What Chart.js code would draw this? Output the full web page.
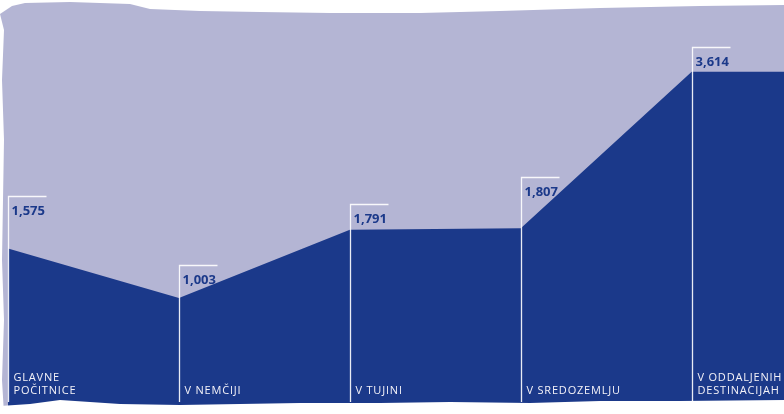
<!DOCTYPE html>
<html>
<head>
<meta charset="utf-8">
<script src="https://cdn.jsdelivr.net/npm/chart.js@4"></script>
<style>
  html, body { margin: 0; padding: 0; background: #ffffff; }
  #chart { display: block; }
</style>
</head>
<body>
<canvas id="chart" width="784" height="414"></canvas>
<script>
const categories = [['GLAVNE', 'POČITNICE'], ['V NEMČIJI'], ['V TUJINI'], ['V SREDOZEMLJU'], ['V ODDALJENIH', 'DESTINACIJAH']]
const values = [1575, 1003, 1791, 1807, 3614]

// styling only: how far above the area each bracket starts
const bracketOffsets = [52, 33, 26, 51, 25]

const lavender = '#b4b5d4'
const navy = '#1b398a'
const xMin = -0.047
const xMax = 4.54

const points = values.map((v, i) => ({ x: i, y: v }))
// area continues flat to the right edge
points.push({ x: xMax, y: values[values.length - 1] })

const formatValue = v => v.toLocaleString('en-US')

const backgroundPlugin = {
  id: 'paper',
  beforeDraw (chart) {
    const ctx = chart.ctx
    ctx.save()
    ctx.fillStyle = lavender
    ctx.fillRect(0, 0, chart.width, chart.height)
    ctx.restore()
  }
}

const decorPlugin = {
  id: 'decor',
  afterDatasetsDraw (chart) {
    const ctx = chart.ctx
    const x = chart.scales.x
    const y = chart.scales.y
    const bottom = 402

    ctx.save()
    values.forEach((v, i) => {
      const px = Math.round(x.getPixelForValue(i)) + 0.5
      const top = Math.round(y.getPixelForValue(v) - bracketOffsets[i]) + 0.5
      ctx.strokeStyle = 'rgba(255,255,255,0.9)'
      ctx.lineWidth = 1.3
      ctx.beginPath()
      ctx.moveTo(px + 38, top)
      ctx.lineTo(px, top)
      ctx.lineTo(px, bottom)
      ctx.stroke()

      ctx.fillStyle = navy
      ctx.font = 'bold 13px "Open Sans"'
      ctx.textBaseline = 'middle'
      ctx.textAlign = 'left'
      ctx.fillText(formatValue(v), px + 3, top + 15)

      ctx.fillStyle = '#f4f2f8'
      ctx.font = '11px "Open Sans"'
      ctx.letterSpacing = '0.8px'
      const lines = categories[i]
      lines.forEach((line, j) => {
        const ly = 391 - (lines.length - 1 - j) * 13
        ctx.fillText(line, px + 5, ly)
      })
      ctx.letterSpacing = '0px'
    })
    ctx.restore()

    // torn paper edges
    ctx.save()
    ctx.fillStyle = '#ffffff'
    const topEdge = [[0, 14], [12, 6], [25, 3], [70, 2], [130, 4], [150, 9], [200, 11], [260, 12], [330, 13], [420, 13], [500, 11], [600, 8], [700, 6], [784, 5]]
    ctx.beginPath()
    ctx.moveTo(0, 0)
    topEdge.forEach(([px, py]) => ctx.lineTo(px, py))
    ctx.lineTo(784, 0)
    ctx.closePath()
    ctx.fill()

    const leftEdge = [[0, 14], [4, 30], [2, 80], [4, 140], [3, 200], [2, 260], [4, 320], [2, 380], [4, 414]]
    ctx.beginPath()
    ctx.moveTo(0, 14)
    leftEdge.forEach(([px, py]) => ctx.lineTo(px, py))
    ctx.lineTo(0, 414)
    ctx.closePath()
    ctx.fill()

    const bottomEdge = [[0, 406], [30, 404], [60, 400], [90, 402], [120, 404], [180, 405], [240, 404], [300, 403], [380, 403], [450, 402], [530, 403], [600, 401], [680, 401], [784, 400]]
    ctx.beginPath()
    ctx.moveTo(0, 414)
    bottomEdge.forEach(([px, py]) => ctx.lineTo(px, py))
    ctx.lineTo(784, 414)
    ctx.closePath()
    ctx.fill()
    ctx.restore()
  }
}

const data = {
  datasets: [{
    data: points,
    fill: 'start',
    backgroundColor: navy,
    borderColor: navy,
    borderWidth: 0,
    pointRadius: 0,
    tension: 0
  }]
}

const options = {
  responsive: false,
  animation: false,
  devicePixelRatio: 1,
  layout: { padding: 0 },
  plugins: {
    legend: { display: false },
    tooltip: { enabled: false }
  },
  scales: {
    x: { type: 'linear', min: xMin, max: xMax, display: false },
    y: { min: -334, max: 4441, display: false }
  }
}

new Chart(document.querySelector('#chart'), {
  type: 'line',
  data,
  options,
  plugins: [backgroundPlugin, decorPlugin]
})
</script>
</body>
</html>
